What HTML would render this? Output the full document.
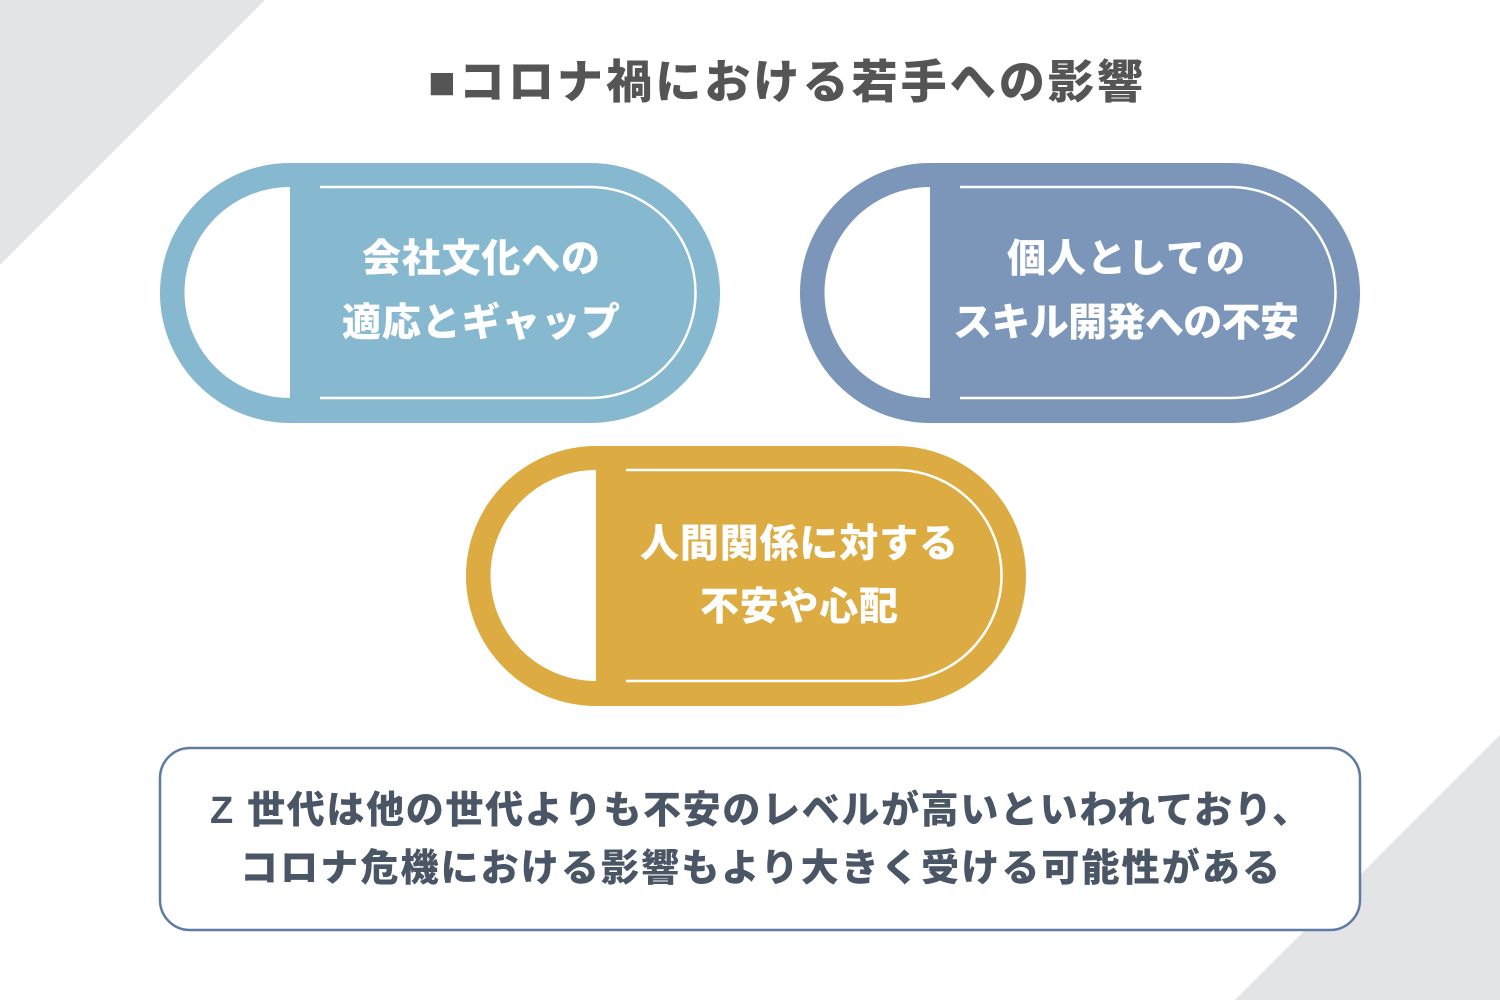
<!DOCTYPE html>
<html><head><meta charset="utf-8"><style>
html,body{margin:0;padding:0;background:#fff;}
body{width:1500px;height:1000px;overflow:hidden;}
text{font-family:"Liberation Sans","Noto Sans CJK JP",sans-serif;font-weight:900;}
</style></head><body>
<svg width="1500" height="1000" viewBox="0 0 1500 1000">
<polygon points="0,0 265,0 0,265" fill="#e3e4e6"/>
<polygon points="1500,735 1500,1000 1235,1000" fill="#e3e4e6"/>
<text x="428" y="98" font-size="46" fill="#555" textLength="715" lengthAdjust="spacing">■コロナ禍における若手への影響</text>

<g>
<rect x="160" y="163" width="560" height="260" rx="130" fill="#86b8cf"/>
<path d="M290,187 A105.5,105.5 0 0 0 290,398 Z" fill="#fff"/>
<path d="M320,187 H590 A105.5,105.5 0 0 1 590,398 H320" fill="none" stroke="#fff" stroke-width="2.5"/>
<text x="362" y="272" font-size="39" fill="#fff" textLength="238" lengthAdjust="spacing">会社文化への</text>
<text x="342" y="336" font-size="39" fill="#fff" textLength="278" lengthAdjust="spacing">適応とギャップ</text>
</g>
<g>
<rect x="800" y="163" width="560" height="260" rx="130" fill="#7b96b9"/>
<path d="M930,187 A105.5,105.5 0 0 0 930,398 Z" fill="#fff"/>
<path d="M960,187 H1230 A105.5,105.5 0 0 1 1230,398 H960" fill="none" stroke="#fff" stroke-width="2.5"/>
<text x="1007" y="272" font-size="39" fill="#fff" textLength="238" lengthAdjust="spacing">個人としての</text>
<text x="953" y="336" font-size="39" fill="#fff" textLength="346" lengthAdjust="spacing">スキル開発への不安</text>
</g>
<g>
<rect x="466" y="446" width="560" height="260" rx="130" fill="#dcab42"/>
<path d="M596,470 A105.5,105.5 0 0 0 596,681 Z" fill="#fff"/>
<path d="M626,470 H896 A105.5,105.5 0 0 1 896,681 H626" fill="none" stroke="#fff" stroke-width="2.5"/>
<text x="640" y="557" font-size="39" fill="#fff" textLength="318" lengthAdjust="spacing">人間関係に対する</text>
<text x="700" y="620" font-size="39" fill="#fff" textLength="198" lengthAdjust="spacing">不安や心配</text>
</g>
<rect x="160" y="748" width="1200" height="182" rx="30" fill="#fff" stroke="#5f7aa5" stroke-width="2.5"/>
<text x="210" y="823" font-size="38" fill="#4a5565" textLength="1100" lengthAdjust="spacing">Z 世代は他の世代よりも不安のレベルが高いといわれており、</text>
<text x="240" y="881" font-size="38" fill="#4a5565" textLength="1040" lengthAdjust="spacing">コロナ危機における影響もより大きく受ける可能性がある</text>
</svg>
</body></html>
